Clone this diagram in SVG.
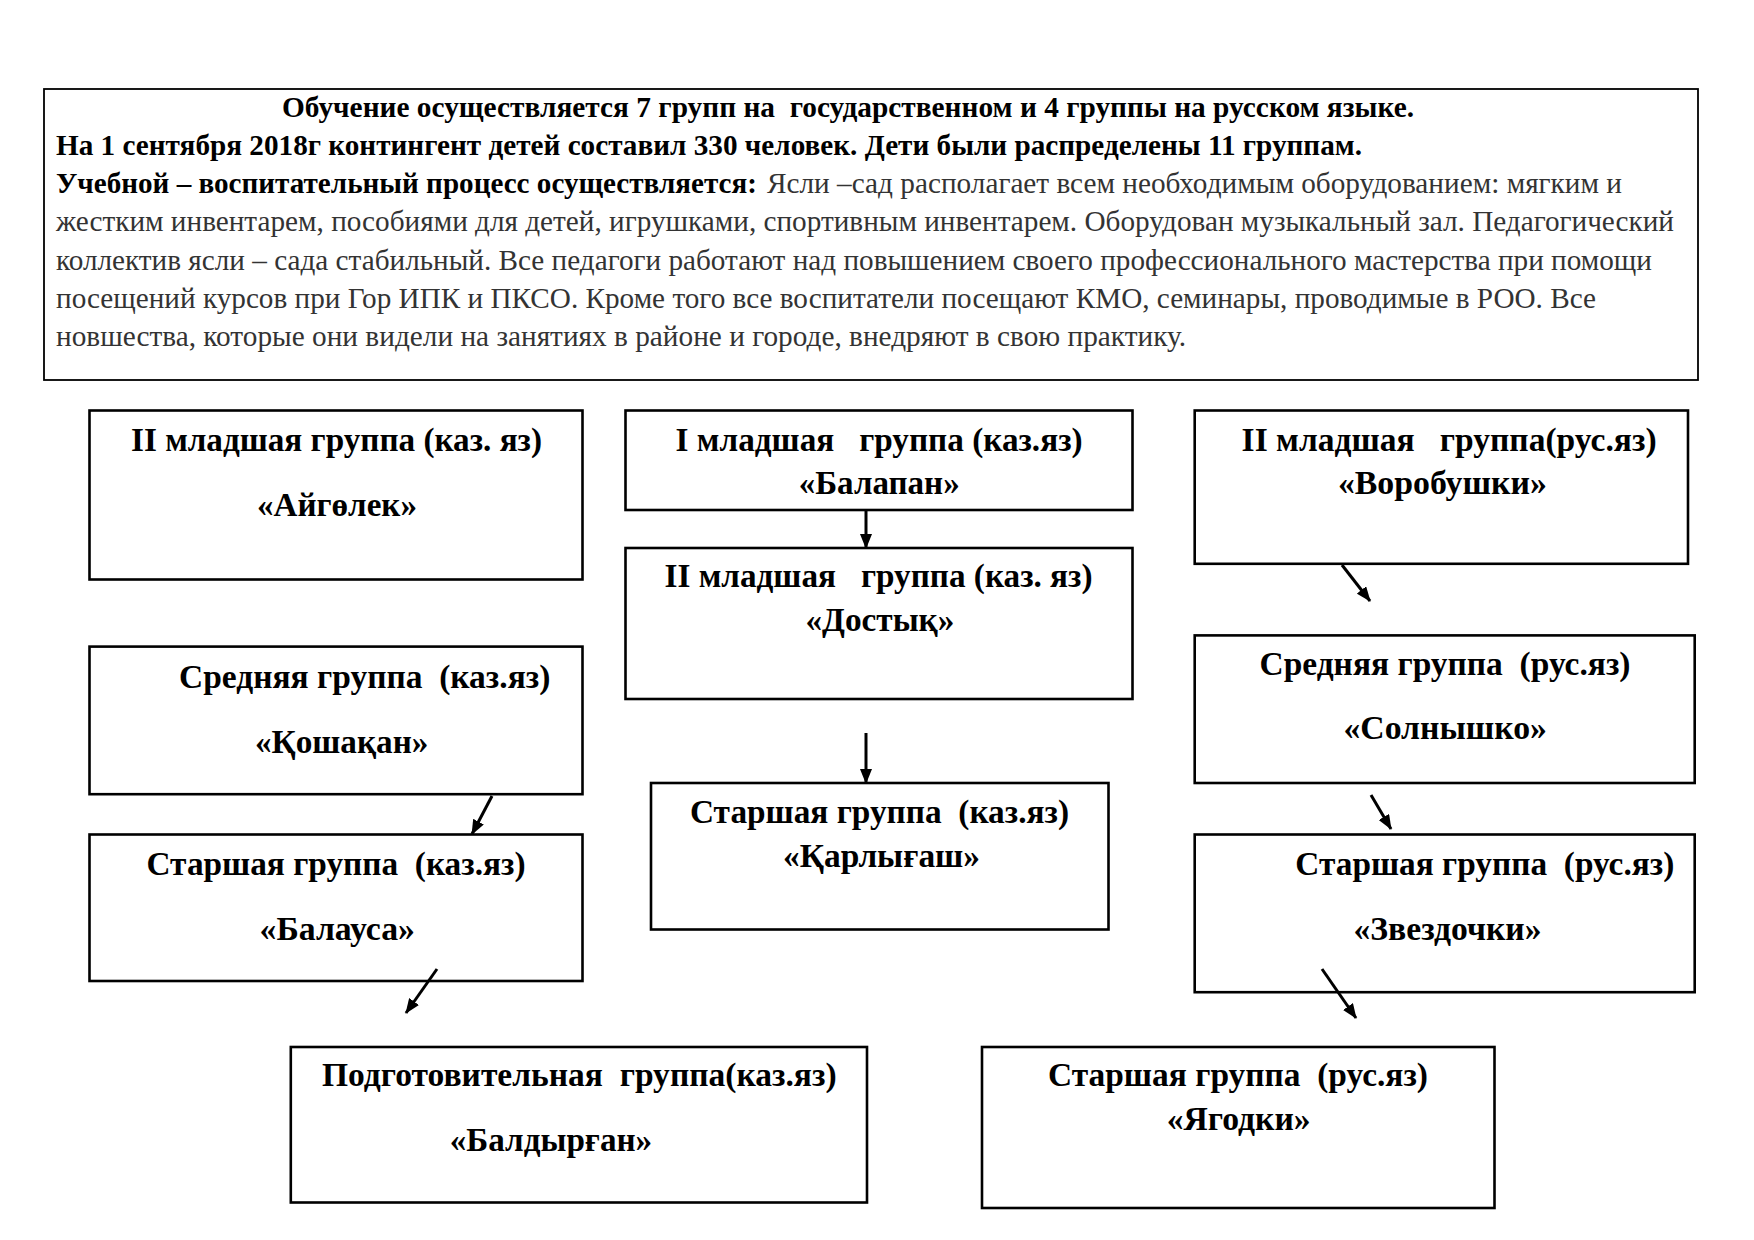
<svg xmlns="http://www.w3.org/2000/svg" width="1754" height="1240" viewBox="0 0 1754 1240">
<style>
.box{fill:#fff;stroke:#000;stroke-width:2.6}
.info{fill:#fff;stroke:#000;stroke-width:1.8}
.t{font-family:"Liberation Serif","Times New Roman",serif;white-space:pre}
.b{font-weight:bold;font-size:33px;fill:#000}
.p{font-size:29px}
.pb{font-weight:bold;fill:#000}
.pn{fill:#333}
.c{stroke:#000;stroke-width:3;fill:none;marker-end:url(#ah)}
</style>
<defs>
<marker id="ah" markerWidth="15" markerHeight="12" refX="14" refY="6" orient="auto" markerUnits="userSpaceOnUse">
<path d="M0,0 L15,6 L0,12 Z" fill="#000"/>
</marker>
</defs>
<rect width="1754" height="1240" fill="#fff"/>
<g id="info">
<rect class="info" x="44" y="89" width="1654" height="291"/>
<text class="t p pb" x="282" y="117" textLength="1132" lengthAdjust="spacingAndGlyphs">Обучение осуществляется 7 групп на  государственном и 4 группы на русском языке.</text>
<text class="t p pb" x="56" y="155" textLength="1306" lengthAdjust="spacingAndGlyphs">На 1 сентября 2018г контингент детей составил 330 человек. Дети были распределены 11 группам.</text>
<text class="t p pb" x="56" y="193" textLength="701" lengthAdjust="spacingAndGlyphs">Учебной – воспитательный процесс осуществляется:</text>
<text class="t p pn" x="767" y="193" textLength="855" lengthAdjust="spacingAndGlyphs">Ясли –сад располагает всем необходимым оборудованием: мягким и</text>
<text class="t p pn" x="56" y="231" textLength="1618" lengthAdjust="spacingAndGlyphs">жестким инвентарем, пособиями для детей, игрушками, спортивным инвентарем. Оборудован музыкальный зал. Педагогический</text>
<text class="t p pn" x="56" y="270" textLength="1596" lengthAdjust="spacingAndGlyphs">коллектив ясли – сада стабильный. Все педагоги работают над повышением своего профессионального мастерства при помощи</text>
<text class="t p pn" x="56" y="308" textLength="1540" lengthAdjust="spacingAndGlyphs">посещений курсов при Гор ИПК и ПКСО. Кроме того все воспитатели посещают КМО, семинары, проводимые в РОО. Все</text>
<text class="t p pn" x="56" y="346" textLength="1130" lengthAdjust="spacingAndGlyphs">новшества, которые они видели на занятиях в районе и городе, внедряют в свою практику.</text>
</g>
<g id="aigolek">
<rect class="box" x="89.5" y="410.5" width="493" height="169"/>
<text class="t b" x="131" y="451" textLength="411" lengthAdjust="spacingAndGlyphs">II младшая группа (каз. яз)</text>
<text class="t b" x="257" y="516" textLength="160" lengthAdjust="spacingAndGlyphs">«Айгөлек»</text>
</g>
<g id="balapan">
<rect class="box" x="625.5" y="410.5" width="507" height="99.5"/>
<text class="t b" x="675.6" y="451" textLength="407" lengthAdjust="spacingAndGlyphs">I младшая   группа (каз.яз)</text>
<text class="t b" x="798.7" y="494" textLength="161" lengthAdjust="spacingAndGlyphs">«Балапан»</text>
</g>
<g id="dostyk">
<rect class="box" x="625.5" y="548" width="507" height="151"/>
<text class="t b" x="664.5" y="587" textLength="428" lengthAdjust="spacingAndGlyphs">II младшая   группа (каз. яз)</text>
<text class="t b" x="805.4" y="631" textLength="149" lengthAdjust="spacingAndGlyphs">«Достық»</text>
</g>
<g id="karlygash">
<rect class="box" x="651" y="783" width="457.5" height="146.5"/>
<text class="t b" x="690" y="823" textLength="379" lengthAdjust="spacingAndGlyphs">Старшая группа  (каз.яз)</text>
<text class="t b" x="783" y="867" textLength="197" lengthAdjust="spacingAndGlyphs">«Қарлығаш»</text>
</g>
<g id="vorobushki">
<rect class="box" x="1194.7" y="410.5" width="493.3" height="153.3"/>
<text class="t b" x="1241.6" y="451" textLength="415" lengthAdjust="spacingAndGlyphs">II младшая   группа(рус.яз)</text>
<text class="t b" x="1337.9" y="494" textLength="209" lengthAdjust="spacingAndGlyphs">«Воробушки»</text>
</g>
<g id="solnyshko">
<rect class="box" x="1194.7" y="635.4" width="500" height="147.6"/>
<text class="t b" x="1259.5" y="675" textLength="371" lengthAdjust="spacingAndGlyphs">Средняя группа  (рус.яз)</text>
<text class="t b" x="1343.4" y="739" textLength="203.6" lengthAdjust="spacingAndGlyphs">«Солнышко»</text>
</g>
<g id="zvezdochki">
<rect class="box" x="1194.7" y="834.5" width="500" height="157.7"/>
<text class="t b" x="1295.3" y="875" textLength="379" lengthAdjust="spacingAndGlyphs">Старшая группа  (рус.яз)</text>
<text class="t b" x="1353.5" y="940" textLength="188" lengthAdjust="spacingAndGlyphs">«Звездочки»</text>
</g>
<g id="koshakan">
<rect class="box" x="89.5" y="646.6" width="493" height="147.6"/>
<text class="t b" x="179" y="688" textLength="371.4" lengthAdjust="spacingAndGlyphs">Средняя группа  (каз.яз)</text>
<text class="t b" x="255" y="753" textLength="173.4" lengthAdjust="spacingAndGlyphs">«Қошақан»</text>
</g>
<g id="balausa">
<rect class="box" x="89.5" y="834.5" width="493" height="146.5"/>
<text class="t b" x="146.5" y="875" textLength="379" lengthAdjust="spacingAndGlyphs">Старшая группа  (каз.яз)</text>
<text class="t b" x="259.5" y="940" textLength="155.5" lengthAdjust="spacingAndGlyphs">«Балауса»</text>
</g>
<g id="baldyrgan">
<rect class="box" x="290.8" y="1047" width="576.2" height="155.5"/>
<text class="t b" x="322" y="1086" textLength="514.6" lengthAdjust="spacingAndGlyphs">Подготовительная  группа(каз.яз)</text>
<text class="t b" x="449.7" y="1151" textLength="202.5" lengthAdjust="spacingAndGlyphs">«Балдырған»</text>
</g>
<g id="yagodki">
<rect class="box" x="982" y="1047" width="512.5" height="161"/>
<text class="t b" x="1048" y="1086" textLength="380" lengthAdjust="spacingAndGlyphs">Старшая группа  (рус.яз)</text>
<text class="t b" x="1166.7" y="1130" textLength="144" lengthAdjust="spacingAndGlyphs">«Ягодки»</text>
</g>
<g id="connectors">
<line class="c" x1="866" y1="511" x2="866" y2="548"/>
<line class="c" x1="866" y1="733" x2="866" y2="783"/>
<line class="c" x1="1342" y1="565" x2="1370" y2="601"/>
<line class="c" x1="1371" y1="795" x2="1391" y2="829"/>
<line class="c" x1="1322" y1="969" x2="1356" y2="1018"/>
<line class="c" x1="492" y1="796" x2="472" y2="834"/>
<line class="c" x1="437" y1="969" x2="406" y2="1013"/>
</g>
</svg>
